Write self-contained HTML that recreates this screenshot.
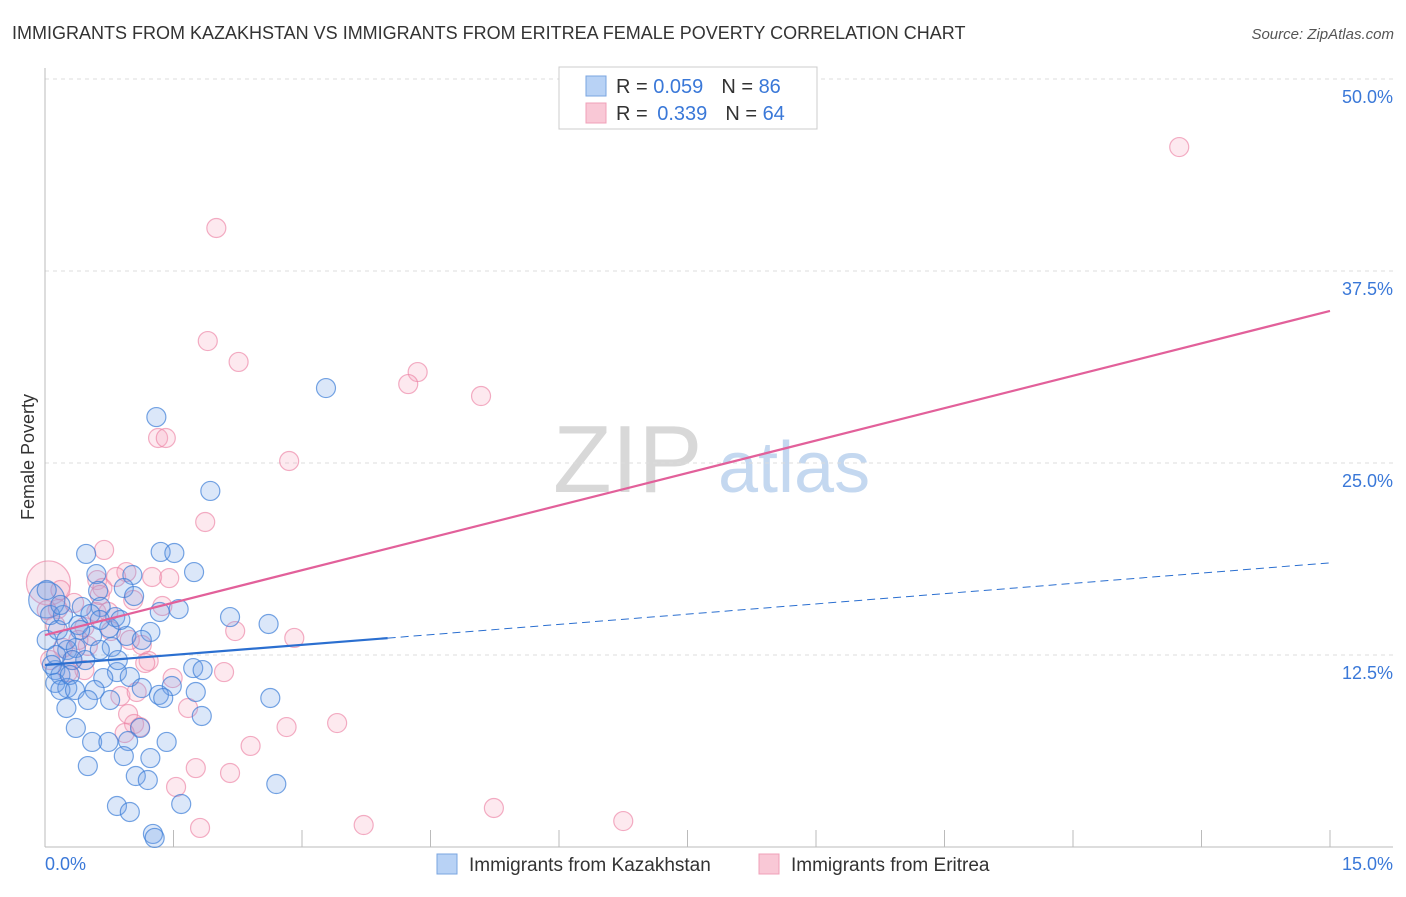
<!DOCTYPE html>
<html><head><meta charset="utf-8"><style>
body{margin:0;background:#fff;font-family:"Liberation Sans",sans-serif}
svg text{font-family:"Liberation Sans",sans-serif}
</style></head><body>
<svg id="chart" width="1406" height="892" viewBox="0 0 1406 892">
<text x="12" y="39" font-size="18" fill="#333">IMMIGRANTS FROM KAZAKHSTAN VS IMMIGRANTS FROM ERITREA FEMALE POVERTY CORRELATION CHART</text>
<text x="1394" y="39" font-size="15" fill="#555" font-style="italic" text-anchor="end">Source: ZipAtlas.com</text>
<text transform="translate(34,457) rotate(-90)" font-size="18" fill="#333" text-anchor="middle">Female Poverty</text>
<g><text x="553" y="492" font-size="96" fill="#d8d8d8" font-family="Liberation Serif">ZIP</text><text x="718" y="492" font-size="72" fill="#c4d8f0">atlas</text></g>
<g id="grid"></g><g id="pts"></g><g id="lines"></g>
<g>
<rect x="559" y="67" width="258" height="62" fill="#fff" stroke="#ccc"/>
<rect x="586" y="76" width="20" height="20" fill="#b8d2f5" stroke="#7aa5e0"/>
<rect x="586" y="103" width="20" height="20" fill="#f9c8d6" stroke="#f0a0b8"/>
<text x="616" y="93" font-size="20" fill="#333">R = <tspan fill="#3a78d8">0.059</tspan><tspan dx="18">N = </tspan><tspan fill="#3a78d8">86</tspan></text>
<text x="616" y="120" font-size="20" fill="#333">R = <tspan fill="#3a78d8" dx="4">0.339</tspan><tspan dx="18">N = </tspan><tspan fill="#3a78d8">64</tspan></text>
</g>
<g>
<rect x="437" y="854" width="20" height="20" fill="#b8d2f5" stroke="#7aa5e0"/>
<text x="469" y="871" font-size="19" fill="#333">Immigrants from Kazakhstan</text>
<rect x="759" y="854" width="20" height="20" fill="#f9c8d6" stroke="#f0a0b8"/>
<text x="791" y="871" font-size="19" fill="#333">Immigrants from Eritrea</text>
</g>
</svg>
<script>
const xTicks=[0,1.5,3,4.5,6,7.5,9,10.5,12,13.5,15];
const yTicks=[12.5,25,37.5,50];
const yTickLabels=["12.5%","25.0%","37.5%","50.0%"];
const blueX=[3.28,1.30,1.93,0.48,1.35,1.51,0.60,1.02,1.74,0.92,0.62,1.04,0.43,0.65,1.34,1.56,0.82,1.23,2.16,2.61,0.39,0.75,0.55,0.95,0.78,0.26,0.36,0.02,0.02,0.12,0.18,1.73,1.84,0.84,0.99,0.68,0.12,0.26,0.18,1.13,1.48,1.76,1.33,1.38,2.63,0.25,1.83,0.36,1.11,0.97,0.55,0.74,1.42,0.92,1.23,0.50,1.06,1.20,2.70,0.84,0.99,1.59,1.26,1.28,0.06,0.15,0.32,0.47,0.21,0.64,0.85,0.53,0.13,0.29,0.76,1.13,0.18,0.35,0.58,0.02,0.08,0.41,0.88,0.25,0.64,0.50];
const blueY=[29.88,27.99,23.18,19.08,19.21,19.14,17.77,17.71,17.90,16.86,16.67,16.34,15.63,15.63,15.30,15.49,14.97,14.00,14.97,14.52,14.45,14.26,13.74,13.74,13.02,12.83,12.96,16.08,13.48,11.52,11.20,11.65,11.52,11.39,11.07,11.00,10.68,10.35,10.22,10.35,10.48,10.09,9.90,9.70,9.70,9.05,8.53,7.75,7.75,6.90,6.84,6.84,6.84,5.92,5.79,5.27,4.62,4.36,4.10,2.67,2.28,2.80,0.85,0.59,15.10,14.13,12.17,12.17,15.10,12.83,12.17,15.17,12.50,11.20,9.57,13.48,15.76,10.22,10.22,16.73,11.85,14.13,14.78,13.48,14.78,9.57];
const pinkX=[13.24,2.00,1.90,2.26,4.35,4.24,5.09,1.32,1.41,2.85,1.87,0.69,0.95,1.25,1.45,0.61,0.83,0.67,0.04,1.03,1.37,0.15,0.34,0.60,0.74,0.46,0.77,2.91,2.22,1.13,0.21,0.32,0.50,1.21,1.17,2.09,1.49,0.46,0.27,0.88,1.07,1.67,0.97,2.82,3.41,1.04,1.11,0.93,2.40,1.76,2.16,1.53,5.24,3.72,6.75,1.81,0.02,0.12,0.64,0.99,0.18,0.39,0.06];
const pinkY=[45.57,40.30,32.94,31.58,30.92,30.14,29.36,26.63,26.63,25.13,21.16,19.34,17.90,17.58,17.51,17.38,17.58,16.86,17.19,16.08,15.69,15.49,15.89,15.30,15.30,14.32,14.06,13.61,14.06,13.15,12.96,12.17,13.09,12.11,11.98,11.39,11.00,11.52,11.39,9.83,10.09,9.05,8.66,7.81,8.07,8.01,7.81,7.42,6.58,5.14,4.82,3.91,2.54,1.43,1.69,1.24,15.43,14.45,16.41,13.48,16.73,13.48,12.17];
const blueTrend=[11.85,13.6,18.5];
const blueTrendX=[0,4.0,15];
const pinkTrend=[13.8,34.9];
const pinkTrendX=[0,15];
const X=v=>45+v*(1285/15), Y=v=>847-v*15.36;
const NS="http://www.w3.org/2000/svg";
function mk(t,a,p){const e=document.createElementNS(NS,t);for(const k in a)e.setAttribute(k,a[k]);p.appendChild(e);return e;}
const grid=document.getElementById('grid');
yTicks.forEach((t,i)=>{
 const l=mk('line',{x1:45,x2:1393,y1:Y(t),y2:Y(t),stroke:'#ddd','stroke-dasharray':'4,4'},grid);
 
 
 const tx=mk('text',{x:1393,y:Y(t)+24,'font-size':18,fill:'#3a78d8','text-anchor':'end'},grid);tx.textContent=yTickLabels[i];
 
 
});
mk('line',{x1:45,x2:45,y1:68,y2:847,stroke:'#bbb'},grid);
mk('line',{x1:45,x2:1393,y1:847,y2:847,stroke:'#bbb'},grid);
xTicks.forEach(t=>{const l=mk('line',{x1:X(t),x2:X(t),y1:830,y2:847,stroke:'#bbb'},grid);
 
 });
let a=mk('text',{x:45,y:870,'font-size':18,fill:'#3a78d8'},grid);a.textContent='0.0%';


a=mk('text',{x:1393,y:870,'font-size':18,fill:'#3a78d8','text-anchor':'end'},grid);a.textContent='15.0%';


const pts=document.getElementById('pts');
function draw(xs,ys,fill,stroke,name,bigIdx,bigR){xs.forEach((x,i)=>{
 const c=mk('circle',{cx:X(x),cy:Y(ys[i]),r:i===bigIdx?bigR:9.5,fill:fill,stroke:stroke,'stroke-width':1.2},pts);
 
 });}
draw(pinkX,pinkY,'rgba(246,166,190,0.25)','rgba(236,130,165,0.65)','eritrea-point',18,22);
draw(blueX,blueY,'rgba(110,160,230,0.25)','rgba(60,125,215,0.7)','kazakhstan-point',27,18);
const lines=document.getElementById('lines');
let l=mk('line',{x1:X(blueTrendX[0]),y1:Y(blueTrend[0]),x2:X(blueTrendX[1]),y2:Y(blueTrend[1]),stroke:'#2b6fd0','stroke-width':2.2},lines);


l=mk('line',{x1:X(blueTrendX[1]),y1:Y(blueTrend[1]),x2:X(blueTrendX[2]),y2:Y(blueTrend[2]),stroke:'#2b6fd0','stroke-width':1,'stroke-dasharray':'8,5'},lines);


l=mk('line',{x1:X(pinkTrendX[0]),y1:Y(pinkTrend[0]),x2:X(pinkTrendX[1]),y2:Y(pinkTrend[1]),stroke:'#e2609a','stroke-width':2.2},lines);


</script>
</body></html>
